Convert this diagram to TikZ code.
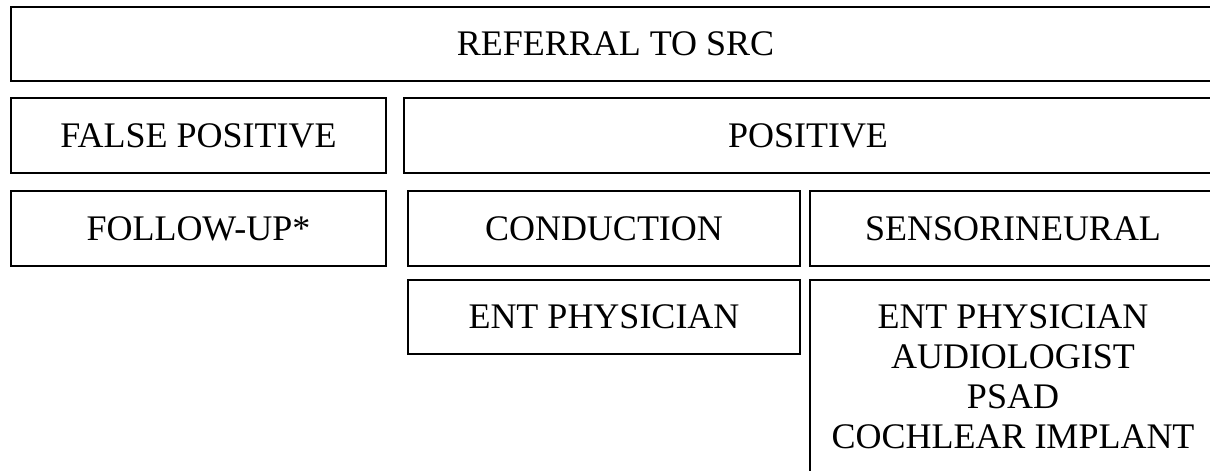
\documentclass[tikz,border=0pt]{standalone}
\usepackage{fontspec}
\setmainfont{Liberation Serif}
\begin{document}
\begin{tikzpicture}[x=1pt,y=-1pt,
  box/.style={draw=black, line width=2.4pt, rectangle, inner sep=0pt, outer sep=0pt, anchor=north west,
    font=\fontsize{36}{40}\selectfont},
  txt/.style={inner sep=0pt, outer sep=0pt, align=center, font=\fontsize{36}{40}\selectfont}]
\useasboundingbox (0,0) rectangle (1210,471);
\clip (0,0) rectangle (1210,471);
\fill[white] (0,0) rectangle (1210,471);
\node[box, minimum width=1209pt, minimum height=74pt] (ref) at (11,7) {REFERRAL TO SRC};
\node[box, minimum width=375pt, minimum height=75pt] (fp) at (11,98) {FALSE POSITIVE};
\node[box, minimum width=808pt, minimum height=75pt] (pos) at (404,98) {POSITIVE};
\node[box, minimum width=375pt, minimum height=75pt] (fu) at (11,191) {FOLLOW-UP*};
\node[box, minimum width=392pt, minimum height=75pt] (cond) at (408,191) {CONDUCTION};
\node[box, minimum width=406pt, minimum height=75pt] (sens) at (810,191) {SENSORINEURAL};
\node[box, minimum width=392pt, minimum height=74pt] (ent) at (408,280) {ENT PHYSICIAN};
\node[box, minimum width=406pt, minimum height=230pt] (big) at (810,280) {};
\node[txt, anchor=north] (bigtxt) at ([yshift=-25pt]big.north) {ENT PHYSICIAN\\AUDIOLOGIST\\PSAD\\COCHLEAR IMPLANT};
\end{tikzpicture}
\end{document}
